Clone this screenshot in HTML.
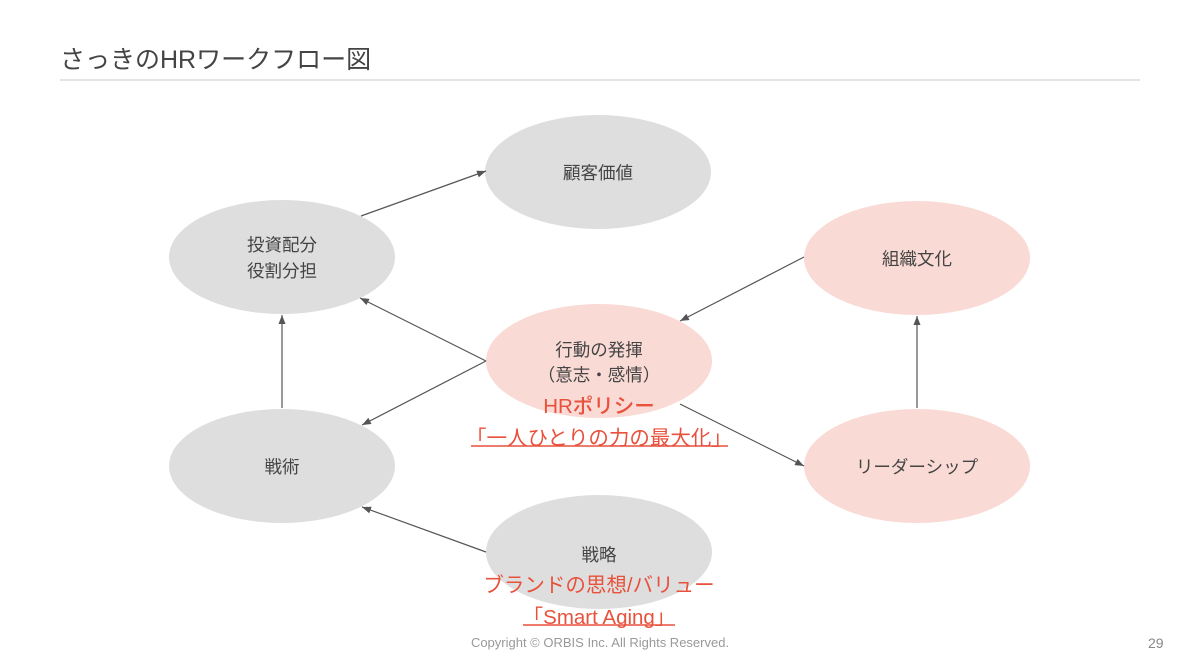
<!DOCTYPE html>
<html><head><meta charset="utf-8"><style>
body{margin:0;width:1200px;height:671px;background:#fff;overflow:hidden;position:relative;font-family:"Liberation Sans","Noto Sans CJK JP",sans-serif;}
.t{position:absolute;white-space:nowrap;}
</style></head><body>
<svg width="1200" height="671" style="position:absolute;left:0;top:0">
<defs><marker id="a" markerWidth="9" markerHeight="7" refX="9" refY="3.5" orient="auto" markerUnits="userSpaceOnUse"><path d="M0,0 L9,3.5 L0,7 z" fill="#555"/></marker></defs>
<line x1="60" y1="80" x2="1140" y2="80" stroke="#c8c8c8" stroke-width="1"/>
<g fill="#dedede">
<ellipse cx="598" cy="172" rx="113" ry="57"/>
<ellipse cx="282" cy="257" rx="113" ry="57"/>
<ellipse cx="282" cy="466" rx="113" ry="57"/>
<ellipse cx="599" cy="552" rx="113" ry="57"/>
</g>
<g fill="#f9dad5">
<ellipse cx="599" cy="361" rx="113" ry="57"/>
<ellipse cx="917" cy="258" rx="113" ry="57"/>
<ellipse cx="917" cy="466" rx="113" ry="57"/>
</g>
<g stroke="#555" stroke-width="1.2" marker-end="url(#a)">
<line x1="361" y1="216" x2="486" y2="171"/>
<line x1="486" y1="361" x2="360" y2="298"/>
<line x1="486" y1="361" x2="362" y2="425"/>
<line x1="282" y1="408" x2="282" y2="315"/>
<line x1="486" y1="552" x2="362" y2="507"/>
<line x1="804" y1="257" x2="680" y2="321"/>
<line x1="680" y1="404" x2="804" y2="466"/>
<line x1="917" y1="408" x2="917" y2="316"/>
</g>
<line x1="471" y1="446" x2="728" y2="446" stroke="#e8513c" stroke-width="1.5"/>
<line x1="523" y1="625" x2="675" y2="625" stroke="#e8513c" stroke-width="1.5"/>
</svg>
<div class="t" style="left:60px;top:40px;font-size:25px;color:#444">さっきのHRワークフロー図</div>
<div class="t" style="left:498px;top:160px;width:200px;text-align:center;font-size:17.5px;color:#444">顧客価値</div>
<div class="t" style="left:182px;top:232px;width:200px;text-align:center;font-size:17.5px;line-height:26px;color:#444">投資配分<br>役割分担</div>
<div class="t" style="left:182px;top:454px;width:200px;text-align:center;font-size:17.5px;color:#444">戦術</div>
<div class="t" style="left:817px;top:246px;width:200px;text-align:center;font-size:17.5px;color:#444">組織文化</div>
<div class="t" style="left:817px;top:454px;width:200px;text-align:center;font-size:17.5px;color:#444">リーダーシップ</div>
<div class="t" style="left:499px;top:338px;width:200px;text-align:center;font-size:17.5px;line-height:25px;color:#444">行動の発揮<br>（意志・感情）</div>
<div class="t" style="left:449px;top:389px;width:300px;text-align:center;font-size:20.5px;color:#e8513c;font-weight:500">HRポリシー</div>
<div class="t" style="left:449px;top:421px;width:300px;text-align:center;font-size:20.5px;color:#e8513c">「一人ひとりの力の最大化」</div>
<div class="t" style="left:499px;top:542px;width:200px;text-align:center;font-size:17.5px;color:#444">戦略</div>
<div class="t" style="left:449px;top:568px;width:300px;text-align:center;font-size:20.5px;color:#e8513c">ブランドの思想/バリュー</div>
<div class="t" style="left:449px;top:600px;width:300px;text-align:center;font-size:20.5px;color:#e8513c">「Smart Aging」</div>
<div class="t" style="left:450px;top:635px;width:300px;text-align:center;font-size:13px;color:#999">Copyright © ORBIS Inc. All Rights Reserved.</div>
<div class="t" style="left:1148px;top:635px;font-size:14px;color:#888">29</div>
</body></html>
